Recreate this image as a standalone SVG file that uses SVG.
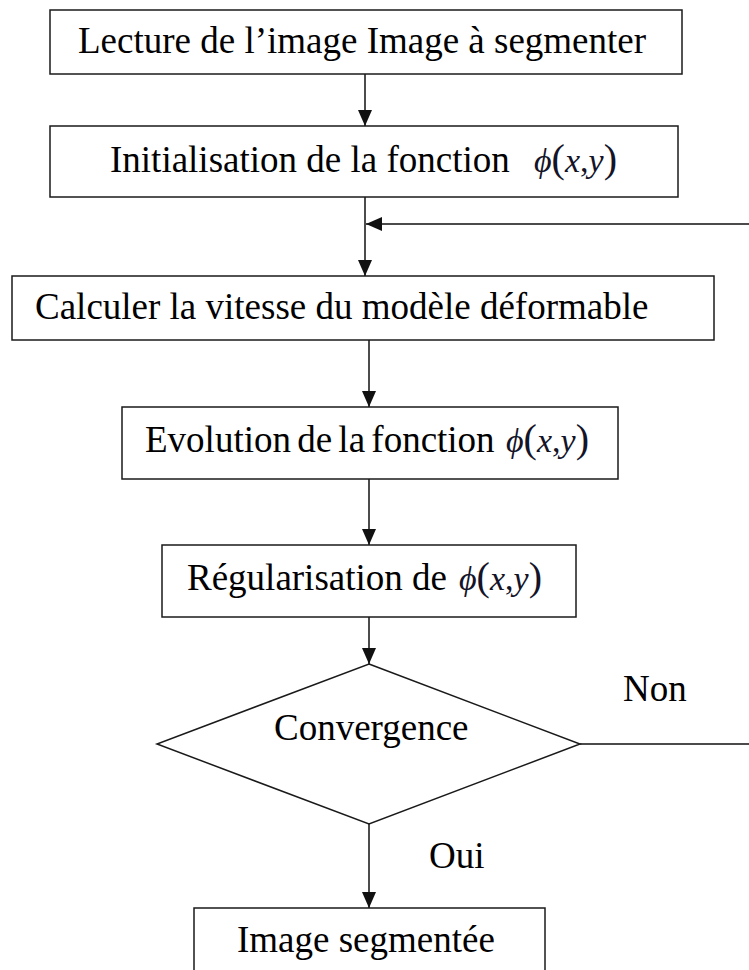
<svg xmlns="http://www.w3.org/2000/svg" width="749" height="970" viewBox="0 0 749 970">
<style>
.box{fill:#fff;stroke:#1a1a1a;stroke-width:1.5}
.t{font-family:"Liberation Serif","Times New Roman","DejaVu Serif",serif;font-size:37px;fill:#000}
.m{font-family:"Liberation Serif","Times New Roman","DejaVu Serif",serif;font-size:34px;fill:#141428}
.i{font-style:italic}
.p{font-size:40px}
.c{fill:none;stroke:#111;stroke-width:1.5}
</style>
<defs>
<marker id="ah" markerWidth="16" markerHeight="14" refX="16" refY="7" orient="auto" markerUnits="userSpaceOnUse">
<path d="M0,0 L16,7 L0,14 z" fill="#111"/>
</marker>
</defs>
<rect width="749" height="970" fill="#fff"/>
<g id="connectors">
<line class="c" x1="365" y1="74" x2="365" y2="126" marker-end="url(#ah)"/>
<line class="c" x1="365" y1="197" x2="365" y2="276" marker-end="url(#ah)"/>
<path class="c" d="M580,744 H762 V224 H366" marker-end="url(#ah)"/>
<line class="c" x1="369" y1="340" x2="369" y2="407" marker-end="url(#ah)"/>
<line class="c" x1="369" y1="479" x2="369" y2="545" marker-end="url(#ah)"/>
<line class="c" x1="369" y1="617" x2="369" y2="664" marker-end="url(#ah)"/>
<line class="c" x1="369" y1="824" x2="369" y2="908" marker-end="url(#ah)"/>
<text class="t" x="623" y="701">Non</text>
<text class="t" x="429" y="868">Oui</text>
</g>
<g id="n1">
<rect class="box" x="50" y="10" width="632" height="64"/>
<text class="t" x="78" y="53">Lecture de l’image Image à segmenter</text>
</g>
<g id="n2">
<rect class="box" x="50" y="126" width="628" height="71"/>
<text class="t" x="110" y="172">Initialisation de la fonction</text>
<text class="m" x="534" y="172"><tspan class="i">ϕ</tspan><tspan class="p">(</tspan><tspan class="i">x</tspan>,<tspan class="i">y</tspan><tspan class="p">)</tspan></text>
</g>
<g id="n3">
<rect class="box" x="12" y="276" width="702" height="64"/>
<text class="t" x="35" y="319">Calculer la vitesse du modèle déformable</text>
</g>
<g id="n4">
<rect class="box" x="122" y="407" width="496" height="72"/>
<text class="t" x="145" y="452" word-spacing="-3">Evolution de la fonction</text>
<text class="m" x="506" y="452"><tspan class="i">ϕ</tspan><tspan class="p">(</tspan><tspan class="i">x</tspan>,<tspan class="i">y</tspan><tspan class="p">)</tspan></text>
</g>
<g id="n5">
<rect class="box" x="162" y="545" width="414" height="72"/>
<text class="t" x="187" y="590">Régularisation de</text>
<text class="m" x="459" y="590"><tspan class="i">ϕ</tspan><tspan class="p">(</tspan><tspan class="i">x</tspan>,<tspan class="i">y</tspan><tspan class="p">)</tspan></text>
</g>
<g id="n6">
<polygon class="box" points="369,664 580,744 369,824 157,744"/>
<text class="t" x="274" y="740">Convergence</text>
</g>
<g id="n7">
<rect class="box" x="194" y="908" width="351" height="70"/>
<text class="t" x="237" y="952">Image segmentée</text>
</g>
</svg>
